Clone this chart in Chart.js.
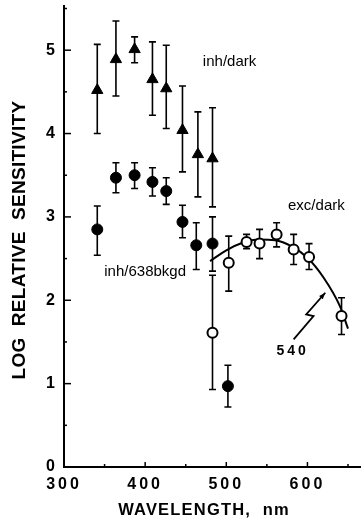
<!DOCTYPE html>
<html lang="en">
<head>
<meta charset="UTF-8" />
<title>Log relative sensitivity vs wavelength</title>
<script src="https://cdn.jsdelivr.net/npm/chart.js"></script>
<style>
  html, body { margin: 0; padding: 0; background: #fff; overflow: hidden; }
  #wrap { position: relative; width: 361px; height: 519px; }
  #sensChart { display: block; }
</style>
</head>
<body>
<div id="wrap"><canvas id="sensChart"></canvas></div>
<script>
// inh/dark (filled triangles)
const inhDarkWl  = [341, 364, 387, 409, 426, 446, 465, 483];
const inhDarkVal = [4.52, 4.89, 5.01, 4.65, 4.54, 4.04, 3.75, 3.70];
const inhDarkHi  = [5.07, 5.35, 5.16, 5.10, 5.06, 4.57, 4.26, 4.31];
const inhDarkLo  = [4.00, 4.45, 4.85, 4.22, 4.06, 3.54, 3.24, 3.12];

// inh/638bkgd (filled circles)
const inhBkgdWl  = [341, 364, 387, 409, 426, 446, 463, 483, 502];
const inhBkgdVal = [2.85, 3.47, 3.50, 3.42, 3.31, 2.94, 2.66, 2.68, 0.97];
const inhBkgdHi  = [3.13, 3.65, 3.65, 3.59, 3.47, 3.14, 2.93, 3.00, 1.22];
const inhBkgdLo  = [2.54, 3.29, 3.34, 3.25, 3.15, 2.75, 2.37, 2.35, 0.72];

// exc/dark (open circles)
const excDarkWl  = [483, 503, 525, 541, 562, 583, 602, 642];
const excDarkVal = [1.61, 2.45, 2.70, 2.68, 2.79, 2.61, 2.52, 1.81];
const excDarkHi  = [2.30, 2.77, 2.79, 2.85, 2.93, 2.79, 2.68, 2.03];
const excDarkLo  = [0.93, 2.11, 2.62, 2.50, 2.64, 2.43, 2.37, 1.59];

// 540 nm template curve
const templateWl  = [480, 500, 520, 540, 560, 580, 600, 620, 640, 650];
const templateVal = [2.47, 2.60, 2.69, 2.73, 2.72, 2.65, 2.51, 2.27, 1.93, 1.66];

// axis ticks
const xMinorTicks = [300, 350, 400, 450, 500, 550, 600, 650];
const yMinorTicks = [0, 0.5, 1, 1.5, 2, 2.5, 3, 3.5, 4, 4.5, 5, 5.5];

// lightning arrow pointing at the curve (data units)
const boltWl  = [583, 607.5, 598.5, 622];
const boltVal = [1.53, 1.81, 1.83, 2.09];

const pts = (xs, ys) => xs.map((v, i) => ({ x: v, y: ys[i] }));

const errorSets = [
  { wl: inhDarkWl, hi: inhDarkHi, lo: inhDarkLo },
  { wl: inhBkgdWl, hi: inhBkgdHi, lo: inhBkgdLo },
  { wl: excDarkWl, hi: excDarkHi, lo: excDarkLo }
];

const notes = [
  { text: 'inh/dark', x: 504, y: 4.86 },
  { text: 'exc/dark', x: 611, y: 3.13 },
  { text: 'inh/638bkgd', x: 400, y: 2.34 }
];

const errorBars = {
  id: 'errorBars',
  beforeDatasetsDraw(chart) {
    const { ctx, scales: { x, y } } = chart;
    ctx.save();
    ctx.strokeStyle = '#000';
    ctx.lineWidth = 1.6;
    errorSets.forEach(s => s.wl.forEach((w, i) => {
      const px = x.getPixelForValue(w);
      const top = y.getPixelForValue(s.hi[i]);
      const bot = y.getPixelForValue(s.lo[i]);
      ctx.beginPath();
      ctx.moveTo(px, top); ctx.lineTo(px, bot);
      ctx.moveTo(px - 3.5, top); ctx.lineTo(px + 3.5, top);
      ctx.moveTo(px - 3.5, bot); ctx.lineTo(px + 3.5, bot);
      ctx.stroke();
    }));
    // inward tick marks
    ctx.lineWidth = 1.5;
    const x0 = x.getPixelForValue(300), y0 = y.getPixelForValue(0);
    xMinorTicks.forEach(v => {
      const px = x.getPixelForValue(v);
      const len = v % 100 === 0 ? 5 : 3;
      ctx.beginPath(); ctx.moveTo(px, y0); ctx.lineTo(px, y0 - len); ctx.stroke();
    });
    yMinorTicks.forEach(v => {
      const py = y.getPixelForValue(v);
      const len = v % 1 === 0 ? 7 : 3;
      ctx.beginPath(); ctx.moveTo(x0, py); ctx.lineTo(x0 + len, py); ctx.stroke();
    });
    ctx.restore();
  }
};

const extras = {
  id: 'extras',
  beforeDraw(chart) {
    chart.ctx.letterSpacing = '3px';
  },
  afterDraw(chart) {
    const { ctx, scales: { x, y } } = chart;
    ctx.save();
    ctx.letterSpacing = '0px';
    ctx.fillStyle = '#000';
    ctx.textAlign = 'center';
    ctx.textBaseline = 'middle';
    ctx.font = '15px "Liberation Sans", Arial, sans-serif';
    notes.forEach(n => ctx.fillText(n.text, x.getPixelForValue(n.x), y.getPixelForValue(n.y)));

    // "540" label
    ctx.letterSpacing = '3px';
    ctx.font = 'bold 14px "Liberation Sans", Arial, sans-serif';
    ctx.fillText('540', x.getPixelForValue(580) + 1.5, y.getPixelForValue(1.39));

    // lightning arrow
    ctx.strokeStyle = '#000';
    ctx.lineWidth = 1.8;
    ctx.beginPath();
    boltWl.forEach((w, i) => {
      const px = x.getPixelForValue(w), py = y.getPixelForValue(boltVal[i]);
      if (i === 0) ctx.moveTo(px, py); else ctx.lineTo(px, py);
    });
    ctx.stroke();
    const n = boltWl.length;
    const ex = x.getPixelForValue(boltWl[n - 1]), ey = y.getPixelForValue(boltVal[n - 1]);
    const sx = x.getPixelForValue(boltWl[n - 2]), sy = y.getPixelForValue(boltVal[n - 2]);
    const a = Math.atan2(ey - sy, ex - sx);
    ctx.beginPath();
    ctx.moveTo(ex, ey);
    ctx.lineTo(ex - 7 * Math.cos(a - 0.35), ey - 7 * Math.sin(a - 0.35));
    ctx.lineTo(ex - 7 * Math.cos(a + 0.35), ey - 7 * Math.sin(a + 0.35));
    ctx.closePath();
    ctx.fill();

    // axis titles
    ctx.letterSpacing = '1.2px';
    ctx.font = 'bold 16.5px "Liberation Sans", Arial, sans-serif';
    ctx.fillText('WAVELENGTH,  nm', 204, 510);
    ctx.letterSpacing = '0.3px';
    ctx.font = 'bold 19px "Liberation Sans", Arial, sans-serif';
    ctx.translate(20, 240);
    ctx.rotate(-Math.PI / 2);
    ctx.fillText('LOG  RELATIVE  SENSITIVITY', 0, 0);
    ctx.restore();
  }
};

const tickFont = { family: '"Liberation Sans", Arial, sans-serif', weight: 'bold', size: 16 };

new Chart(document.getElementById('sensChart'), {
  type: 'scatter',
  data: {
    datasets: [
      {
        label: 'exc/dark',
        data: pts(excDarkWl, excDarkVal),
        pointStyle: 'circle',
        pointRadius: 5,
        pointBackgroundColor: '#fff',
        pointBorderColor: '#000',
        pointBorderWidth: 2
      },
      {
        label: 'inh/dark',
        data: pts(inhDarkWl, inhDarkVal),
        pointStyle: 'triangle',
        pointRadius: 6.5,
        pointBackgroundColor: '#000',
        pointBorderColor: '#000',
        pointBorderWidth: 1
      },
      {
        label: 'inh/638bkgd',
        data: pts(inhBkgdWl, inhBkgdVal),
        pointStyle: 'circle',
        pointRadius: 5.5,
        pointBackgroundColor: '#000',
        pointBorderColor: '#000',
        pointBorderWidth: 1
      },
      {
        label: '540 template',
        data: pts(templateWl, templateVal),
        showLine: true,
        borderColor: '#000',
        borderWidth: 2,
        cubicInterpolationMode: 'monotone',
        pointRadius: 0
      }
    ]
  },
  options: {
    responsive: true,
    maintainAspectRatio: false,
    animation: false,
    layout: { autoPadding: false, padding: { top: 6, right: 0, left: 0, bottom: 0 } },
    plugins: { legend: { display: false }, tooltip: { enabled: false } },
    scales: {
      x: {
        type: 'linear',
        min: 300,
        max: 666,
        grid: { display: false, drawTicks: false },
        border: { display: true, color: '#000', width: 2 },
        ticks: {
          stepSize: 100,
          includeBounds: false,
          autoSkip: false,
          maxRotation: 0,
          color: '#000',
          font: tickFont,
          padding: 8
        },
        afterFit: s => {
          s.height = 52;
          s.paddingLeft = 0;
          s.paddingRight = 0;
        }
      },
      y: {
        min: 0,
        max: 5.53,
        grid: { display: false, drawTicks: false },
        border: { display: true, color: '#000', width: 2 },
        ticks: {
          stepSize: 1,
          includeBounds: false,
          color: '#000',
          font: tickFont,
          padding: 6
        },
        afterFit: s => {
          s.width = 64;
          s.paddingTop = 0;
          s.paddingBottom = 0;
        }
      }
    }
  },
  plugins: [errorBars, extras]
});
</script>
</body>
</html>
